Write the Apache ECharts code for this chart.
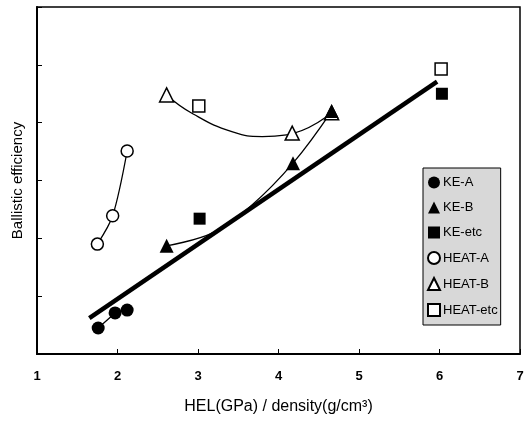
<!DOCTYPE html>
<html><head><meta charset="utf-8">
<script src="https://cdn.jsdelivr.net/npm/echarts@6/dist/echarts.min.js"></script>
<style>html,body{margin:0;padding:0;background:#fff}#c{width:528px;height:422px}</style>
</head><body><div id="c"></div>
<script>
// Data
const xTicks = [1, 2, 3, 4, 5, 6, 7];
const keA = [[1.76, 0.45], [1.97, 0.71], [2.12, 0.76]];
const keB = [[2.61, 1.87], [4.18, 3.30], [4.66, 4.20]];
const keEtc = [[3.02, 2.34], [6.03, 4.50]];
const heatA = [[1.75, 1.90], [1.94, 2.39], [2.12, 3.51]];
const heatB = [[2.61, 4.48], [4.17, 3.82], [4.66, 4.17]];
const heatEtc = [[3.01, 4.29], [6.02, 4.93]];
// trend curves
const keBCurve = [[2.61, 1.87], [3.19, 2.10], [3.65, 2.55], [4.18, 3.30], [4.66, 4.20]];
const heatBCurve = [[2.61, 4.48], [2.94, 4.15], [3.43, 3.84], [3.80, 3.76], [4.10, 3.79], [4.66, 4.17]];
const fitLine = [[1.65, 0.62], [5.97, 4.71]];

const font = 'Liberation Sans, Arial, sans-serif';
const chart = echarts.init(document.getElementById('c'));
function sc(name, data, symbol, filled, size) {
  return {
    name, type: 'scatter', data, symbol, symbolSize: size, z: 5,
    itemStyle: filled ? {color: '#000', opacity: 1} : {color: '#fff', borderColor: '#000', borderWidth: 1.5, opacity: 1}
  };
}
function ln(data, smooth, width) {
  return {
    type: 'line', data, smooth, showSymbol: false, symbol: 'none', silent: true, z: 3,
    lineStyle: {color: '#000', width}
  };
}
chart.setOption({
  animation: false,
  grid: {left: 37, top: 7, right: 8, bottom: 68, show: true, borderColor: '#000', borderWidth: 1.5, backgroundColor: 'transparent'},
  xAxis: {
    type: 'value', min: 1, max: 7, interval: 1,
    name: 'HEL(GPa) / density(g/cm\u00b3)', nameLocation: 'middle', nameGap: 45,
    nameTextStyle: {fontFamily: font, fontSize: 16, color: '#000'},
    axisLine: {show: true, lineStyle: {color: '#000', width: 2}},
    axisTick: {show: true, inside: true, length: 5, lineStyle: {color: '#000'}},
    axisLabel: {fontFamily: font, fontSize: 13, fontWeight: 'bold', color: '#000', margin: 16,
      formatter: v => xTicks.includes(v) ? String(v) : ''},
    splitLine: {show: false}
  },
  yAxis: {
    type: 'value', min: 0, max: 6, interval: 1,
    name: 'Ballistic efficiency', nameLocation: 'middle', nameGap: 12,
    nameTextStyle: {fontFamily: font, fontSize: 15, color: '#000'},
    axisLine: {show: true, lineStyle: {color: '#000', width: 2}},
    axisTick: {show: true, inside: true, length: 5, lineStyle: {color: '#000'}},
    axisLabel: {show: false},
    splitLine: {show: false}
  },
  legend: {
    orient: 'vertical', left: 423, top: 168, width: 81,
    padding: [8, 3, 8, 4], itemGap: 12, itemWidth: 12, itemHeight: 12,
    backgroundColor: '#d8d8d8', borderColor: '#000', borderWidth: 1,
    textStyle: {fontFamily: font, fontSize: 13, color: '#000', padding: [0, 0, 0, -2]},
    data: ['KE-A', 'KE-B', 'KE-etc', 'HEAT-A', 'HEAT-B', 'HEAT-etc']
  },
  series: [
    ln(fitLine, false, 4.5),
    ln(keA, false, 1.3),
    ln(heatA, 0.3, 1.3),
    ln(keBCurve, 0.4, 1.3),
    ln(heatBCurve, 0.5, 1.3),
    sc('HEAT-B', heatB, 'triangle', false, 14),
    sc('KE-A', keA, 'circle', true, 13),
    sc('KE-B', keB, 'triangle', true, 14),
    sc('KE-etc', keEtc, 'rect', true, 12),
    sc('HEAT-A', heatA, 'circle', false, 12),
    sc('HEAT-etc', heatEtc, 'rect', false, 12)
  ]
});
</script></body></html>
